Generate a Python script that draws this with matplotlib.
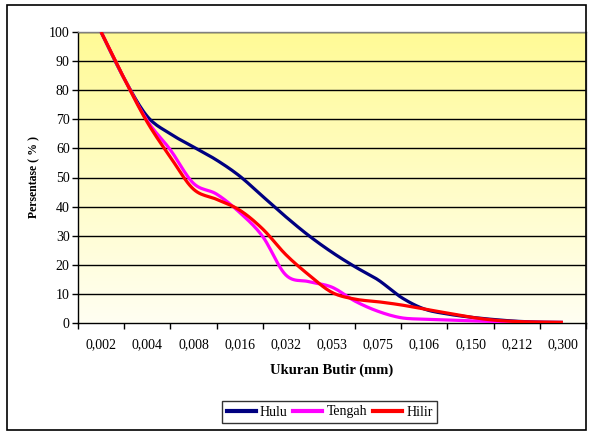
import numpy as np
import matplotlib
matplotlib.use("Agg")
import matplotlib.pyplot as plt
from matplotlib.patches import Rectangle
from matplotlib.lines import Line2D

plt.rcParams["font.family"] = ["Liberation Serif", "DejaVu Serif"]

# grain size classes (mm) shown on the x axis
ukuran = ["0,002", "0,004", "0,008", "0,016", "0,032", "0,053",
          "0,075", "0,106", "0,150", "0,212", "0,300"]

# readings taken every half class step (0, 0.5, 1, ... 10)
posisi = [0, 0.5, 1, 1.5, 2, 2.5, 3, 3.5, 4, 4.5, 5, 5.5, 6, 6.5, 7,
          7.5, 8, 8.5, 9, 9.5, 10]
hulu = [100, 84, 71, 65, 60.5, 56, 50.5, 43.5, 36.5, 30, 24.3, 19.3,
        14.8, 8.8, 4.8, 3.1, 2.0, 1.2, 0.6, 0.3, 0.2]
tengah = [100, 84, 69.5, 59.5, 48, 44.3, 38, 29.7, 16.5, 14.2, 12.3,
          7.5, 4.0, 1.8, 1.3, 1.0, 0.7, 0.5, 0.3, 0.2, 0.2]
hilir = [100, 84, 69, 57, 46, 42.5, 38.8, 32.3, 23.5, 16.5, 10.5, 8.2,
         7.3, 6.2, 4.8, 3.4, 2.0, 1.0, 0.5, 0.3, 0.2]


def smooth(xs, ys, n=12):
    """Catmull-Rom curve through the points, like a smoothed line chart."""
    p = np.column_stack([xs, ys]).astype(float)
    p = np.vstack([p[0], p, p[-1]])
    out = []
    t = np.linspace(0, 1, n, endpoint=False)[:, None]
    for i in range(1, len(p) - 2):
        p0, p1, p2, p3 = p[i - 1], p[i], p[i + 1], p[i + 2]
        seg = 0.5 * ((2 * p1) + (-p0 + p2) * t
                     + (2 * p0 - 5 * p1 + 4 * p2 - p3) * t ** 2
                     + (-p0 + 3 * p1 - 3 * p2 + p3) * t ** 3)
        out.append(seg)
    out.append(p[-2][None, :])
    out = np.vstack(out)
    return out[:, 0], out[:, 1]


fig = plt.figure(figsize=(5.89, 4.32), dpi=100)
fig.patch.set_facecolor("white")

# chart border
fig.add_artist(Rectangle((7 / 589, 2 / 432), 579 / 589, 425 / 432,
                         transform=fig.transFigure, fill=False,
                         edgecolor="black", linewidth=1.2))

ax = fig.add_axes([78 / 589, 1 - 323 / 432, 508 / 589, 291 / 432])

# yellow gradient plot area
grad = np.linspace(0, 1, 256).reshape(-1, 1)
top = np.array([255, 250, 150]) / 255
bot = np.array([255, 255, 242]) / 255
img = top[None, None, :] * (1 - grad[..., None]) + bot[None, None, :] * grad[..., None]
ax.imshow(img, extent=[0, 1, 0, 1], transform=ax.transAxes, aspect="auto",
          zorder=0)

ax.set_xlim(-0.5, len(ukuran) - 0.5)
ax.set_ylim(0, 100)
ax.set_yticks(range(0, 101, 10))
for v in range(10, 101, 10):
    ax.axhline(v, color="black", linewidth=1.0, zorder=1)

for ys, col, nama, z in [(hulu, "#000080", "Hulu", 3),
                         (tengah, "#FF00FF", "Tengah", 4),
                         (hilir, "#FF0000", "Hilir", 5)]:
    sx, sy = smooth(posisi, ys)
    ax.plot(sx, sy, color=col, linewidth=2.3, solid_joinstyle="round",
            solid_capstyle="butt", zorder=z, label=nama)

# x ticks at class boundaries, labels at class centres
ax.set_xticks(np.arange(-0.5, len(ukuran), 1.0))
ax.set_xticklabels([])
ax.set_xticks(range(len(ukuran)), minor=True)
ax.set_xticklabels(ukuran, minor=True)
ax.tick_params(axis="x", which="major", direction="out", length=4, width=1)
ax.tick_params(axis="x", which="minor", length=0, pad=11, labelsize=10)
ax.tick_params(axis="y", direction="out", length=4, width=1, labelsize=10, pad=2)

for s in ["left", "bottom"]:
    ax.spines[s].set_color("black")
    ax.spines[s].set_linewidth(1.0)
for s in ["top", "right"]:
    ax.spines[s].set_color("#808080")
    ax.spines[s].set_linewidth(1.0)

ax.set_xlabel("Ukuran Butir (mm)", fontsize=10.5, fontweight="bold", labelpad=9)
ax.set_ylabel("Persentase ( % )", fontsize=8.5, fontweight="bold", labelpad=6)

handles = [Line2D([], [], color=c, linewidth=3)
           for c in ["#000080", "#FF00FF", "#FF0000"]]
leg = fig.legend(handles, ["Hulu", "Tengah", "Hilir"], loc="center",
                 bbox_to_anchor=(329.5 / 589, 1 - 412 / 432), ncol=3,
                 fontsize=10, frameon=True, fancybox=False, handlelength=2.1,
                 handletextpad=0.3, columnspacing=0.4, borderpad=0.3,
                 borderaxespad=0)
leg.get_frame().set_edgecolor("black")
leg.get_frame().set_linewidth(1.0)

fig.savefig("out.png", dpi=100)
